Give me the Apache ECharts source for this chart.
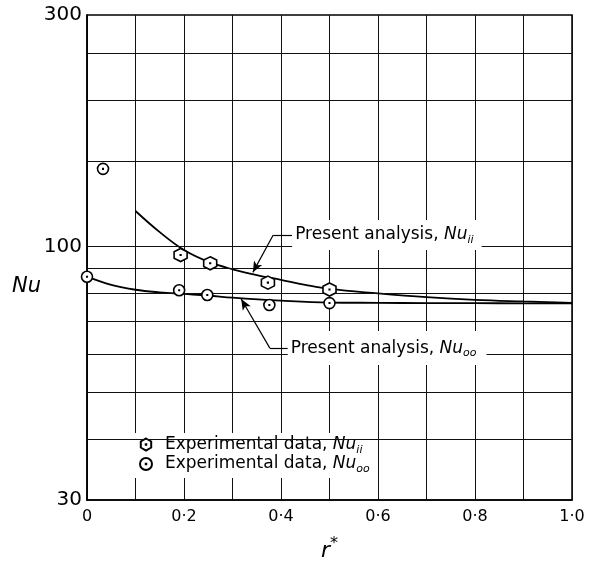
<!DOCTYPE html>
<html>
<head>
<meta charset="utf-8">
<script src="https://cdn.jsdelivr.net/npm/echarts@6/dist/echarts.min.js"></script>
<style>
html,body{margin:0;padding:0;background:#fff;}
#chart{width:590px;height:561px;}
</style>
</head>
<body>
<div id="chart"></div>
<script>
// ---- data ----
const xTicks = [0, 0.2, 0.4, 0.6, 0.8, 1.0];
const yLabelValues = [30, 100, 300];
const yGridValues = [40, 50, 60, 70, 80, 90, 100, 150, 200, 250];

// Present analysis, Nu_ii (curve)
const curveIIx = [0.1, 0.15, 0.2, 0.25, 0.3, 0.35, 0.4, 0.45, 0.5, 0.6, 0.7, 0.8, 0.9, 1.0];
const curveIIy = [118.3, 107.0, 98.3, 93.0, 89.7, 87.3, 85.3, 83.3, 81.7, 80.0, 78.6, 77.6, 77.0, 76.5];

// Present analysis, Nu_oo (curve)
const curveOOx = [0, 0.05, 0.1, 0.15, 0.2, 0.25, 0.3, 0.4, 0.5, 0.6, 0.7, 0.8, 0.9, 1.0];
const curveOOy = [86.6, 83.3, 81.4, 80.4, 79.8, 79.2, 78.4, 77.3, 76.6, 76.5, 76.4, 76.4, 76.3, 76.3];

// Experimental data, Nu_ii (hexagons)
const expIIx = [0.193, 0.254, 0.373, 0.5];
const expIIy = [96.0, 92.3, 84.2, 81.5];

// Experimental data, Nu_oo (circles)
const expOOx = [0.033, 0, 0.19, 0.248, 0.376, 0.5];
const expOOy = [144.5, 86.6, 81.2, 79.4, 75.7, 76.4];

const zip = (xs, ys) => xs.map((x, i) => [x, ys[i]]);

const FONT = 'DejaVu Sans';
const hexPath = 'path://M10 0 L18.66 5 L18.66 15 L10 20 L1.34 15 L1.34 5 Z M9.6 9.6 L10.4 9.6 L10.4 10.4 L9.6 10.4 Z';
const circPath = 'path://M10 0 A10 10 0 1 1 9.99 0 Z M9.6 9.6 L10.4 9.6 L10.4 10.4 L9.6 10.4 Z';

const nameII = 'Experimental data, Nu_ii';
const nameOO = 'Experimental data, Nu_oo';

const richText = {
  t: {fontFamily: FONT, fontSize: 17, color: '#000', lineHeight: 22, verticalAlign: 'middle'},
  i: {fontFamily: FONT, fontSize: 17, fontStyle: 'italic', color: '#000', lineHeight: 22, verticalAlign: 'middle'},
  s: {fontFamily: FONT, fontSize: 11, fontStyle: 'italic', color: '#000', lineHeight: 22, verticalAlign: 'bottom'}
};

const chart = echarts.init(document.getElementById('chart'), null, {renderer: 'canvas'});

const option = {
  backgroundColor: '#fff',
  animation: false,
  grid: {left: 87, right: 18, top: 15, bottom: 61, show: true, borderColor: '#000', borderWidth: 1.5,
         backgroundColor: 'transparent', containLabel: false, outerBoundsMode: 'none'},
  graphic: [{
    type: 'text', left: 12, top: 276, silent: true,
    style: {text: 'Nu', fontFamily: FONT, fontSize: 21, fontStyle: 'italic', fill: '#000'}
  }],
  legend: {
    orient: 'vertical',
    left: 133,
    top: 433,
    backgroundColor: '#fff',
    padding: [3, 6, 3, 6],
    itemGap: 0,
    itemWidth: 12,
    itemHeight: 12,
    selectedMode: false,
    data: [{name: nameII, icon: hexPath}, {name: nameOO, icon: circPath}],
    formatter: n => n === nameII ? '{t|Experimental data, }{i|Nu}{s|ii}' : '{t|Experimental data, }{i|Nu}{s|oo}',
    textStyle: {padding: [0, 0, 0, 8], rich: richText}
  },
  xAxis: {
    type: 'value', min: 0, max: 1, interval: 0.1,
    name: '{r|r}{a|*}', nameLocation: 'middle', nameGap: 36,
    nameTextStyle: {rich: {
      r: {fontFamily: FONT, fontSize: 22, fontStyle: 'italic', color: '#000', lineHeight: 26, verticalAlign: 'bottom'},
      a: {fontFamily: FONT, fontSize: 16, color: '#000', lineHeight: 26, verticalAlign: 'top'}
    }},
    axisLine: {show: true, lineStyle: {color: '#000', width: 1.5}},
    axisTick: {show: false},
    splitLine: {show: true, lineStyle: {color: '#111', width: 1}},
    axisLabel: {
      margin: 9, color: '#000', fontFamily: FONT, fontSize: 16,
      formatter: v => {
        const k = Math.round(v * 10);
        if (k % 2) return '';
        if (k === 0) return '0';
        return (k / 10).toFixed(1).replace('.', '·');
      }
    }
  },
  yAxis: {
    type: 'log', logBase: 10, min: 30, max: 300,
    axisLine: {show: true, lineStyle: {color: '#000', width: 1.5}},
    axisTick: {show: false},
    splitLine: {show: false},
    minorSplitLine: {show: false},
    axisLabel: {
      customValues: yLabelValues,
      margin: 5, color: '#000', fontFamily: FONT, fontSize: 20,
      formatter: v => String(Math.round(v))
    }
  },
  series: [
    {
      name: 'grid', type: 'scatter', data: [], z: 1, silent: true,
      markLine: {
        silent: true, symbol: 'none', animation: false,
        label: {show: false},
        lineStyle: {color: '#111', width: 1, type: 'solid'},
        data: yGridValues.map(v => ({yAxis: v}))
      }
    },
    {
      name: 'Present analysis, Nu_ii', type: 'line', data: zip(curveIIx, curveIIy),
      smooth: 0.4, showSymbol: false, symbol: 'none', z: 3,
      lineStyle: {color: '#000', width: 1.8},
      markLine: {
        silent: true, animation: false, symbolSize: [7, 11],
        label: {show: false},
        lineStyle: {color: '#000', width: 1.2, type: 'solid'},
        data: [
          [{coord: [0.423, 105.6], symbol: 'none'}, {coord: [0.384, 105.6], symbol: 'none'}],
          [{coord: [0.384, 105.6], symbol: 'none'}, {coord: [0.342, 88.4], symbol: 'arrow'}]
        ]
      },
      markPoint: {
        silent: true, animation: false, symbol: 'circle', symbolSize: 0,
        data: [{coord: [0.423, 105.6]}],
        label: {
          show: true, position: 'right', distance: 0,
          backgroundColor: '#fff', padding: [4, 8, 4, 3],
          formatter: '{t|Present analysis, }{i|Nu}{s|ii}', rich: richText
        }
      }
    },
    {
      name: 'Present analysis, Nu_oo', type: 'line', data: zip(curveOOx, curveOOy),
      smooth: 0.4, showSymbol: false, symbol: 'none', z: 3,
      lineStyle: {color: '#000', width: 1.8},
      markLine: {
        silent: true, animation: false, symbolSize: [7, 11],
        label: {show: false},
        lineStyle: {color: '#000', width: 1.2, type: 'solid'},
        data: [
          [{coord: [0.414, 61.7], symbol: 'none'}, {coord: [0.377, 61.7], symbol: 'none'}],
          [{coord: [0.377, 61.7], symbol: 'none'}, {coord: [0.318, 77.9], symbol: 'arrow'}]
        ]
      },
      markPoint: {
        silent: true, animation: false, symbol: 'circle', symbolSize: 0,
        data: [{coord: [0.414, 61.7]}],
        label: {
          show: true, position: 'right', distance: 0,
          backgroundColor: '#fff', padding: [6, 10, 6, 3],
          formatter: '{t|Present analysis, }{i|Nu}{s|oo}', rich: richText
        }
      }
    },
    {
      name: nameII, type: 'scatter', data: zip(expIIx, expIIy), z: 5,
      symbol: hexPath, symbolSize: 13,
      itemStyle: {color: '#fff', borderColor: '#000', borderWidth: 1.6, opacity: 1}
    },
    {
      name: nameOO, type: 'scatter', data: zip(expOOx, expOOy), z: 5,
      symbol: circPath, symbolSize: 11,
      itemStyle: {color: '#fff', borderColor: '#000', borderWidth: 1.6, opacity: 1}
    }
  ]
};

chart.setOption(option);
</script>
</body>
</html>
